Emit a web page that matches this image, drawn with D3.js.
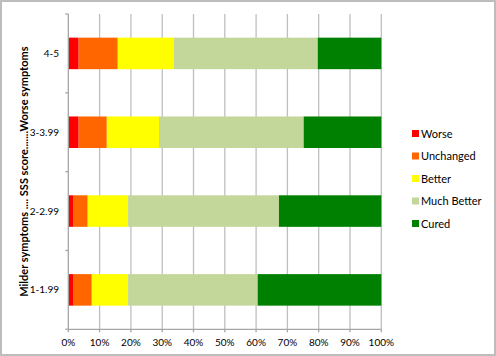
<!DOCTYPE html>
<html><head><meta charset="utf-8">
<script src="https://cdn.jsdelivr.net/npm/d3@7"></script>
<style>body{margin:0;background:#fff}svg{display:block}</style>
</head><body>
<script>
const categories = ["4-5", "3-3.99", "2-2.99", "1-1.99"];
const seriesNames = ["Worse", "Unchanged", "Better", "Much Better", "Cured"];
const worse      = [3.3, 3.3, 1.7, 1.7];
const unchanged  = [12.5, 9.0, 4.5, 5.8];
const better     = [17.9, 16.7, 12.9, 11.6];
const muchBetter = [46.0, 46.2, 48.2, 41.4];
const cured      = [20.3, 24.8, 32.7, 39.5];
const xTicks = [0, 10, 20, 30, 40, 50, 60, 70, 80, 90, 100];
const colors = ["#ff0000", "#ff6600", "#ffff00", "#c4d79b", "#008000"];
const yTitle = "Milder symptoms .... SSS score.......Worse symptoms";

const W = 496, H = 356;
const svg = d3.select("body").append("svg").attr("width", W).attr("height", H);
svg.append("rect").attr("x", 1).attr("y", 1).attr("width", W - 2).attr("height", H - 2)
  .attr("fill", "#fff").attr("stroke", "#bdbdbd").attr("stroke-width", 2);

const m = {left: 68.3, right: 381.3, top: 14, bottom: 329.3};
const x = d3.scaleLinear().domain([0, 100]).range([m.left, m.right]);
const y = d3.scaleBand().domain(categories).range([m.top, m.bottom]).paddingInner(0.6).paddingOuter(0.3);

const font = "Lato, 'Open Sans', sans-serif";

// gridlines
svg.append("g").selectAll("line").data(xTicks.slice(1)).join("line")
  .attr("x1", d => x(d)).attr("x2", d => x(d)).attr("y1", m.top).attr("y2", m.bottom)
  .attr("stroke", "#bfbfbf").attr("stroke-width", 1.3);

// stacked data
const rows = categories.map((c, i) => ({cat: c, Worse: worse[i], Unchanged: unchanged[i], Better: better[i], "Much Better": muchBetter[i], Cured: cured[i]}));
const stack = d3.stack().keys(seriesNames)(rows);

svg.append("g").selectAll("g").data(stack).join("g")
  .attr("fill", (d, i) => colors[i])
  .selectAll("rect").data(d => d).join("rect")
  .attr("x", d => x(d[0])).attr("width", d => x(d[1]) - x(d[0]))
  .attr("y", d => y(d.data.cat)).attr("height", y.bandwidth());

// y axis
const yAxisG = svg.append("g");
yAxisG.append("line").attr("x1", m.left).attr("x2", m.left).attr("y1", m.top).attr("y2", m.bottom)
  .attr("stroke", "#a6a6a6").attr("stroke-width", 1.3);
const step = (m.bottom - m.top) / categories.length;
const tickYs = d3.range(categories.length + 1).map(i => m.top + i * step);
yAxisG.selectAll(".t").data(tickYs).join("line")
  .attr("x1", m.left - 3).attr("x2", m.left).attr("y1", d => d).attr("y2", d => d)
  .attr("stroke", "#a6a6a6").attr("stroke-width", 1.3);
yAxisG.selectAll("text").data(categories).join("text")
  .attr("x", 59).attr("y", d => y(d) + y.bandwidth() / 2).attr("dy", "0.35em")
  .attr("text-anchor", "end").attr("font-family", font).attr("font-size", 10).attr("fill", "#000")
  .text(d => d);

// x axis
const xAxisG = svg.append("g");
xAxisG.append("line").attr("x1", m.left).attr("x2", m.right).attr("y1", m.bottom).attr("y2", m.bottom)
  .attr("stroke", "#a6a6a6").attr("stroke-width", 1.3);
xAxisG.selectAll(".t").data(xTicks).join("line")
  .attr("x1", d => x(d)).attr("x2", d => x(d)).attr("y1", m.bottom).attr("y2", m.bottom + 3)
  .attr("stroke", "#a6a6a6").attr("stroke-width", 1.3);
xAxisG.selectAll("text").data(xTicks).join("text")
  .attr("x", d => x(d)).attr("y", 346).attr("text-anchor", "middle")
  .attr("font-family", font).attr("font-size", 10).attr("fill", "#000")
  .text(d => d + "%");

// y title
svg.append("text").attr("transform", `translate(28,${(m.top + m.bottom) / 2}) rotate(-90)`)
  .attr("text-anchor", "middle").attr("font-family", font).attr("font-weight", "bold")
  .attr("font-size", 11).attr("fill", "#000").text(yTitle);

// legend
const lg = svg.append("g").selectAll("g").data(seriesNames).join("g")
  .attr("transform", (d, i) => `translate(412,${134 + i * 22.5})`);
lg.append("rect").attr("x", 0).attr("y", -4).attr("width", 7).attr("height", 7).attr("fill", (d, i) => colors[i]);
lg.append("text").attr("x", 9).attr("y", 0).attr("dy", "0.35em")
  .attr("font-family", font).attr("font-size", 11).attr("fill", "#000").text(d => d);
</script>
</body></html>
